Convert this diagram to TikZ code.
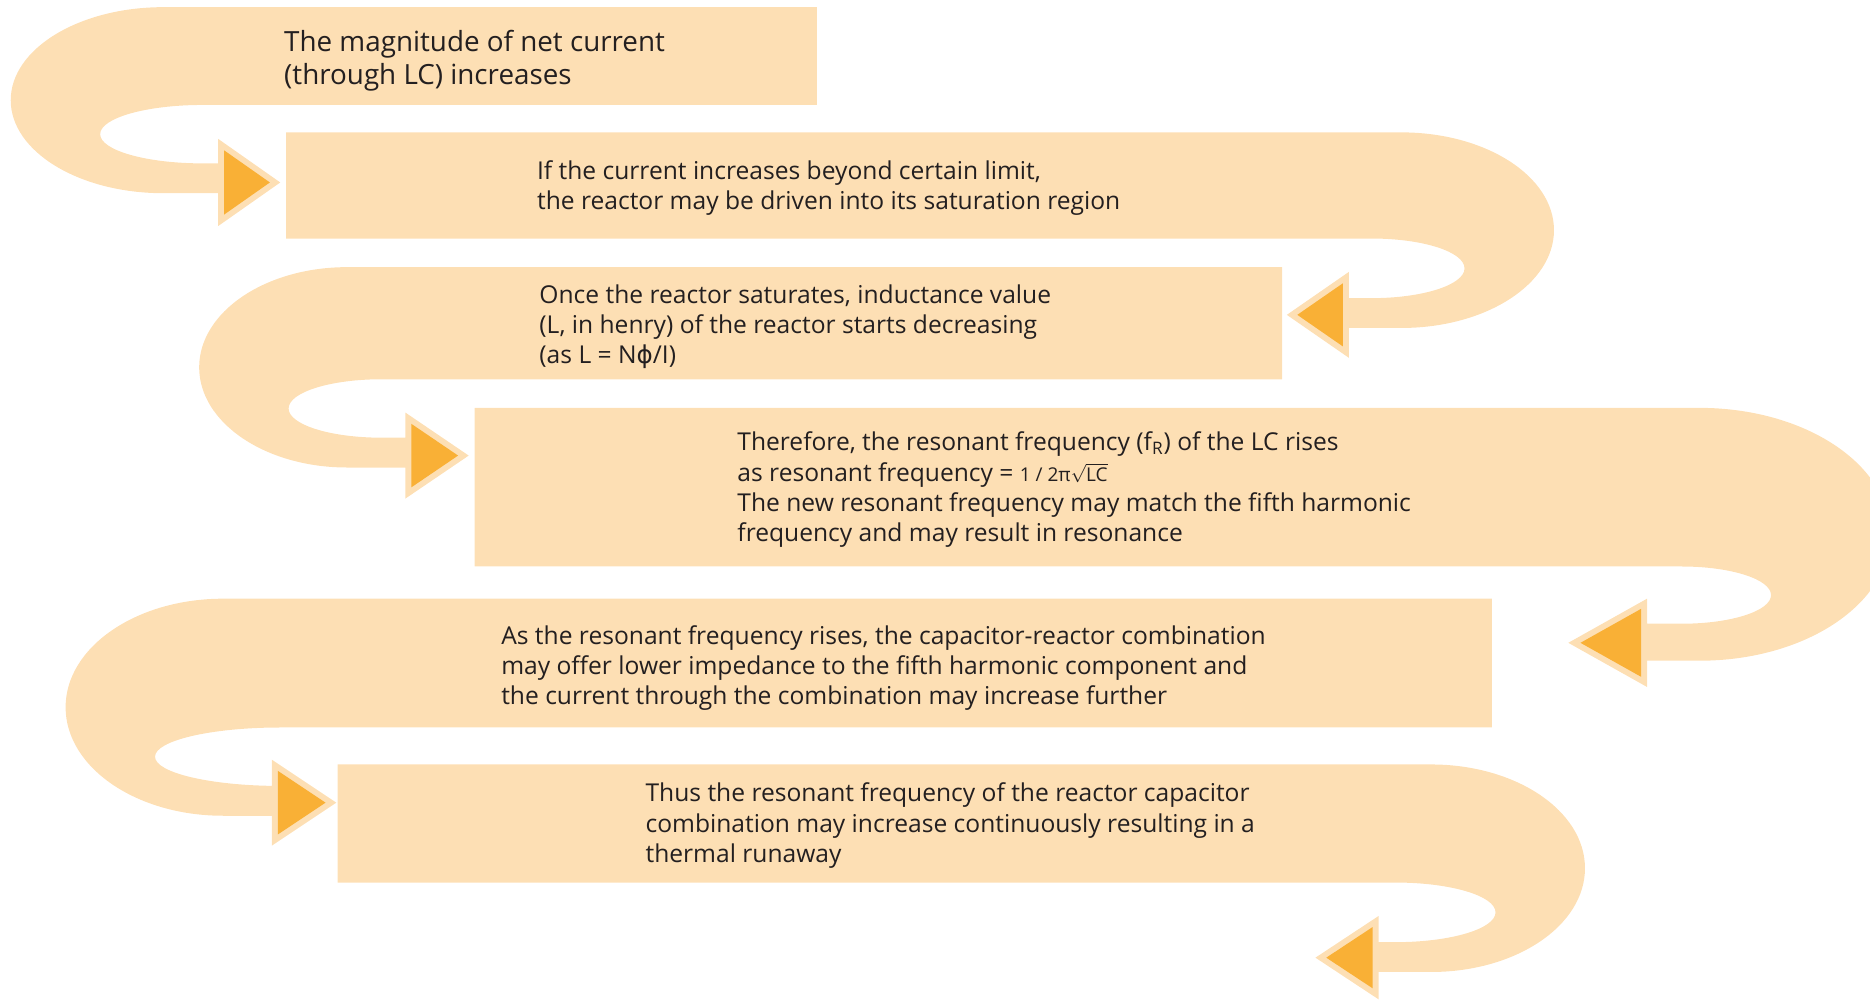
\documentclass[tikz,border=0pt]{standalone}
\usepackage{fontspec}
\setmainfont{Open Sans}
\newfontfamily\djv{DejaVu Sans}
\definecolor{ribbonc}{HTML}{FDDFB4}
\definecolor{arrowc}{HTML}{F9B036}
\definecolor{textc}{HTML}{231F20}
\newcommand\innerarrow[4]{%
  \pgfmathsetmacro\iaL{#2-#1}%
  \pgfmathsetmacro\iaA{abs(\iaL)}%
  \pgfmathsetmacro\iaS{\iaL/\iaA}%
  \pgfmathsetmacro\iaSin{#4/sqrt(#4*#4+\iaA*\iaA)}%
  \pgfmathsetmacro\iaB{#1+5*\iaS}%
  \pgfmathsetmacro\iaT{#2-\iaS*5/\iaSin}%
  \pgfmathsetmacro\iaH{#4*abs(\iaT-\iaB)/\iaA}%
  \fill[arrowfill] (\iaB,#3-\iaH) -- (\iaT,#3) -- (\iaB,#3+\iaH) -- cycle;%
}
\tikzset{
  ribbon/.style={fill=ribbonc},
  arrowfill/.style={fill=arrowc},
  boxtext/.style={anchor=base west, inner sep=0pt, align=left, text=textc,
    font=\fontsize{12.3}{15.1}\selectfont},
  bigtext/.style={boxtext, font=\fontsize{13.9}{16.5}\selectfont},
}
\begin{document}
\begin{tikzpicture}[x=0.5963pt,y=-0.5963pt]
\useasboundingbox (0,0) rectangle (1568,838);
\clip (0,0) rectangle (1568,838);

% band 1 (left turn)
\fill[ribbon] (685,6) -- (137,6) arc[start angle=270, end angle=90, x radius=128, y radius=78]
  -- (183,162) -- (183,189.5) -- (235,153) -- (183,116.5) -- (183,137) -- (170,137)
  arc[start angle=90, end angle=270, x radius=86, y radius=24.5] -- (685,88) -- cycle;
\innerarrow{183}{235}{153}{36.5}

% band 2 (right turn)
\fill[ribbon] (240,111) -- (1175,111) arc[start angle=270, end angle=450, x radius=128, y radius=82]
  -- (1131,275) -- (1131,300) -- (1079,264) -- (1131,228) -- (1131,250) -- (1150,250)
  arc[start angle=90, end angle=-90, x radius=78, y radius=25] -- (240,200) -- cycle;
\innerarrow{1131}{1079}{264}{36}

% band 3 (left turn)
\fill[ribbon] (1075,224) -- (291,224) arc[start angle=270, end angle=90, x radius=124, y radius=84]
  -- (340,392) -- (340,418) -- (393,382) -- (340,346) -- (340,367) -- (320,367)
  arc[start angle=90, end angle=270, x radius=78, y radius=24.5] -- (1075,318) -- cycle;
\innerarrow{340}{393}{382}{36}

% band 4 (right turn)
\fill[ribbon] (398,342) -- (1425,342) arc[start angle=270, end angle=450, x radius=160, y radius=106]
  -- (1381,554) -- (1381,576) -- (1315,539) -- (1381,502) -- (1381,523) -- (1410,523)
  arc[start angle=90, end angle=-90, x radius=75, y radius=24] -- (398,475) -- cycle;
\innerarrow{1381}{1315}{539}{37}

% band 5 (left turn)
\fill[ribbon] (1251,502) -- (187,502) arc[start angle=270, end angle=90, x radius=132, y radius=91]
  -- (228,684) -- (228,709) -- (282,673) -- (228,637) -- (228,659) -- (235,659)
  arc[start angle=90, end angle=270, x radius=105, y radius=24.5] -- (1251,610) -- cycle;
\innerarrow{228}{282}{673}{36}

% band 6 (right turn)
\fill[ribbon] (283,641) -- (1200,641) arc[start angle=270, end angle=450, x radius=129, y radius=87]
  -- (1156,815) -- (1156,838) -- (1103,803) -- (1156,768) -- (1156,790) -- (1170,790)
  arc[start angle=90, end angle=-90, x radius=84, y radius=25] -- (283,740) -- cycle;
\innerarrow{1156}{1103}{803}{35}

% text: anchor is the baseline of the last line
\node[bigtext] (t1) at (238,71) {The magnitude of net current\\(through LC) increases};
\node[boxtext] (t2) at (450,176) {If the current increases beyond certain limit,\\the reactor may be driven into its saturation region};
\node[boxtext] (t3) at (452,305) {Once the reactor saturates, inductance value\\(L, in henry) of the reactor starts decreasing\\(as L = N{\djv ϕ}/I)};
\node[boxtext] (t4) at (618,454) {Therefore, the resonant frequency (f\textsubscript{R}) of the LC rises\\as resonant frequency = {\fontsize{9.5}{9.5}\selectfont 1 / 2π$\sqrt{\mbox{\fontsize{9.5}{9.5}\selectfont LC}}$}\\The new resonant frequency may match the fifth harmonic\\frequency and may result in resonance};
\node[boxtext] (t5) at (420,591) {As the resonant frequency rises, the capacitor-reactor combination\\may offer lower impedance to the fifth harmonic component and\\the current through the combination may increase further};
\node[boxtext] (t6) at (541,723) {Thus the resonant frequency of the reactor capacitor\\combination may increase continuously resulting in a\\thermal runaway};
\end{tikzpicture}
\end{document}
